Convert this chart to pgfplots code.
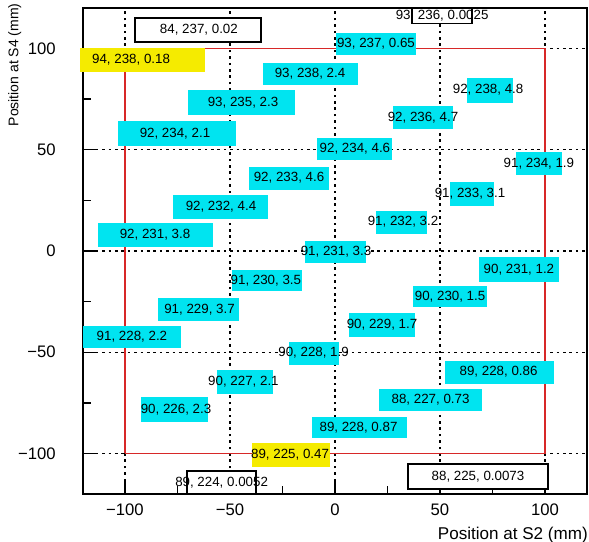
\documentclass[border=0pt]{standalone}
\usepackage{fontspec}
\setmainfont{Liberation Sans}
\usepackage{pgfplots}
\usepackage{pgfplotstable}
\pgfplotsset{compat=1.18}
\definecolor{rcyan}{RGB}{0,228,240}
\definecolor{ryellow}{RGB}{245,235,0}
\definecolor{rred}{RGB}{215,40,40}

\pgfplotstableread{
bx by bw bh tx ty label
19.5 102.2 60 16.5 19.5 102.2 {93, 237, 0.65}
-11.9 87.4 71.25 16.5 -11.9 87.4 {93, 238, 2.4}
73.8 79.5 34.5 18.75 72.9 79.5 {92, 238, 4.8}
-44.3 73.3 80.25 18.75 -43.8 73.3 {93, 235, 2.3}
41.9 65.7 45 17.25 41.9 65.7 {92, 236, 4.7}
-75.2 57.8 88.5 18.75 -76.2 57.8 {92, 234, 2.1}
9.5 50.4 56.25 16.5 9.5 50.4 {92, 234, 4.6}
97.1 43.0 34.5 17.25 97.1 43.0 {91, 234, 1.9}
-21.9 36.0 60 17.25 -21.9 36.0 {92, 233, 4.6}
65.2 28.1 33 18 64.3 28.1 {91, 233, 3.1}
-54.3 21.7 71.25 18 -54.3 21.7 {92, 232, 4.4}
31.9 14.3 38.25 17.25 32.4 14.3 {91, 232, 3.2}
-85.7 7.9 86.25 18 -85.7 7.9 {92, 231, 3.8}
0 -0.5 45.75 16.5 0.5 -0.5 {91, 231, 3.3}
87.6 -9.1 60 18.75 87.6 -9.1 {90, 231, 1.2}
-32.4 -14.8 52.5 15.75 -32.9 -14.8 {91, 230, 3.5}
54.8 -22.7 55.5 15.75 54.8 -22.7 {90, 230, 1.5}
-65.2 -28.9 60.75 17.25 -64.5 -28.9 {91, 229, 3.7}
22.4 -36.5 49.5 18 22.4 -36.5 {90, 229, 1.7}
-96.7 -42.5 73.5 16.5 -96.7 -42.5 {91, 228, 2.2}
-10.0 -50.4 37.5 17.25 -10.2 -50.4 {90, 228, 1.9}
-42.9 -64.7 42 18 -43.6 -64.7 {90, 227, 2.1}
78.3 -59.8 81.75 17.25 77.9 -59.8 {89, 228, 0.86}
45.5 -73.6 77.25 16.5 45.5 -73.6 {88, 227, 0.73}
-76.4 -78.3 50.25 18.75 -75.7 -78.3 {90, 226, 2.3}
11.7 -87.2 71.25 15.75 11.2 -87.2 {89, 228, 0.87}
}\cyantab

\pgfplotstableread{
bx by bw bh tx ty label
-91.7 94.3 93.75 18 -97.1 94.3 {94, 238, 0.18}
-21.0 -100.7 58.5 18 -21.4 -100.7 {89, 225, 0.47}
}\yellowtab

\pgfplotstableread{
bx by bw bh tx ty label
-65.2 109.1 94.5 18 -64.8 109.1 {84, 237, 0.02}
51.0 116.0 45 11.25 51.0 116.0 {93, 236, 0.0025}
-54.0 -114.3 51.75 17.25 -54.0 -114.3 {89, 224, 0.0052}
68.1 -111.4 105 18.75 68.1 -111.4 {88, 225, 0.0073}
}\whitetab

\pgfplotsset{
  boxplot/.style={draw=none, mark=none, nodes near coords={},
    visualization depends on={\thisrow{bw} \as \bw},
    visualization depends on={\thisrow{bh} \as \bh},
    every node near coord/.style={anchor=center, inner sep=0pt,
      minimum width=\bw, minimum height=\bh, fill=#1}},
  textplot/.style={draw=none, mark=none, nodes near coords,
    point meta=explicit symbolic,
    every node near coord/.style={anchor=center, inner sep=0pt,
      font=\fontsize{10}{12}\selectfont, text=black}},
}

\begin{document}
\begin{tikzpicture}
\begin{axis}[
  name=ax,
  scale only axis,
  width=378pt, height=364.5pt,
  xmin=-120, xmax=120, ymin=-120, ymax=120,
  clip=false,
  axis line style={line width=1pt},
  xtick={-100,-50,0,50,100},
  ytick={-100,-50,0,50,100},
  xticklabels={−100,−50,0,50,100},
  yticklabels={−100,−50,0,50,100},
  minor xtick={-75,-25,25,75},
  minor ytick={-75,-25,25,75},
  xtick pos=left, ytick pos=left,
  tick align=inside,
  major tick length=10.5pt,
  minor tick length=6pt,
  every tick/.style={black, line width=1pt},
  grid=major,
  major grid style={black, line width=1pt, dash pattern=on 2pt off 2.8pt},
  tick label style={font=\fontsize{12.5}{14}\selectfont},
  xticklabel style={yshift=-4pt},
  yticklabel style={xshift=-17pt},
  xlabel={Position at S2 (mm)},
  ylabel={Position at S4 (mm)},
  xlabel style={at={(axis description cs:1.002,-0.068)}, anchor=north east,
    inner sep=0pt, font=\fontsize{12.8}{15}\selectfont},
  ylabel style={at={(axis description cs:-0.149,1.01)}, anchor=north east,
    inner sep=0pt, font=\fontsize{10.5}{12}\selectfont},
]
\addplot[boxplot=rcyan] table[x=bx, y=by] {\cyantab};
\addplot[boxplot=ryellow] table[x=bx, y=by] {\yellowtab};
\addplot[boxplot=white, every node near coord/.append style={draw=black, line width=1pt}] table[x=bx, y=by] {\whitetab};
\addplot[rred, line width=1pt, mark=none] coordinates {(-100,-100) (100,-100) (100,100) (-100,100) (-100,-100)};
\addplot[textplot] table[x=tx, y=ty, meta=label] {\cyantab};
\addplot[textplot] table[x=tx, y=ty, meta=label] {\yellowtab};
\addplot[textplot] table[x=tx, y=ty, meta=label] {\whitetab};
\end{axis}
\pgfresetboundingbox
\path[use as bounding box] ([xshift=-62.25pt,yshift=-36pt]ax.south west) rectangle ([xshift=1.5pt,yshift=6pt]ax.north east);
\end{tikzpicture}
\end{document}
